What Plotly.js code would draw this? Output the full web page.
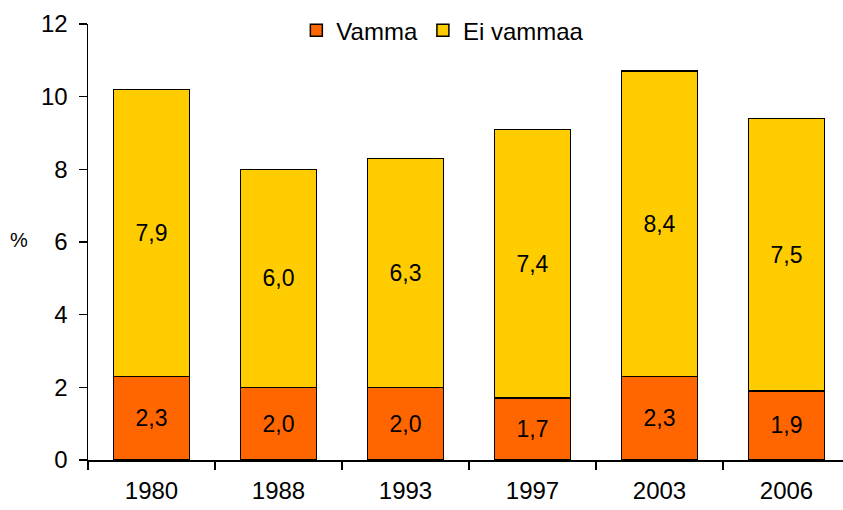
<!DOCTYPE html>
<html><head><meta charset="utf-8">
<script src="https://cdn.plot.ly/plotly-3.0.1.min.js"></script>
<style>html,body{margin:0;padding:0;background:#fff}#c{width:843px;height:510px}</style>
</head><body><div id="c"></div>
<script>
const years = ['1980','1988','1993','1997','2003','2006'];
const vamma = [2.3, 2.0, 2.0, 1.7, 2.3, 1.9];
const eiVamma = [7.9, 6.0, 6.3, 7.4, 8.4, 7.5];
const yTicks = [0, 2, 4, 6, 8, 10, 12];

const font = {family: '"Liberation Sans", Arial, sans-serif', color: '#000'};
const common = {
  type: 'bar', x: years,
  texttemplate: '%{y:.1f}', textposition: 'inside', insidetextanchor: 'middle',
  textangle: 0, insidetextfont: Object.assign({}, font, {size: 23}),
  constraintext: 'none', hoverinfo: 'none'
};
const data = [
  Object.assign({}, common, {name: 'Vamma', y: vamma,
    marker: {color: '#FF6600', line: {color: '#000', width: 1.5}}}),
  Object.assign({}, common, {name: 'Ei vammaa', y: eiVamma,
    marker: {color: '#FFCC00', line: {color: '#000', width: 1.5}}})
];
const layout = {
  width: 843, height: 510,
  margin: {l: 88, r: 0, t: 24, b: 50},
  barmode: 'stack', bargap: 0.4,
  separators: ',.',
  paper_bgcolor: '#fff', plot_bgcolor: '#fff',
  font: Object.assign({}, font, {size: 24}),
  showlegend: true,
  legend: {orientation: 'h', x: 0.47, xanchor: 'center', y: 0.985, yanchor: 'middle',
    bgcolor: 'rgba(0,0,0,0)', font: Object.assign({}, font, {size: 24}),
    traceorder: 'normal', itemwidth: 30, tracegroupgap: 0},
  xaxis: {type: 'category', range: [-0.5, 5.445], tickson: 'boundaries',
    ticks: 'outside', ticklen: 8, tickwidth: 1.5, tickcolor: '#000',
    showline: true, linecolor: '#000', linewidth: 1.5, showgrid: false,
    zeroline: false, ticklabelstandoff: 9,
    tickfont: Object.assign({}, font, {size: 24}), fixedrange: true},
  yaxis: {range: [0, 12], tickvals: yTicks, ticktext: yTicks.map(String),
    ticks: 'outside', ticklen: 8, tickwidth: 1.5, tickcolor: '#000',
    showline: true, linecolor: '#000', linewidth: 1.5, showgrid: false,
    zeroline: false, ticklabelstandoff: 6,
    tickfont: Object.assign({}, font, {size: 24}), fixedrange: true},
  annotations: [{text: '%', xref: 'paper', yref: 'paper', x: -0.092, y: 0.505,
    xanchor: 'center', yanchor: 'middle', showarrow: false,
    font: Object.assign({}, font, {size: 20})}]
};
Plotly.newPlot('c', data, layout, {displayModeBar: false, staticPlot: true});
</script></body></html>
